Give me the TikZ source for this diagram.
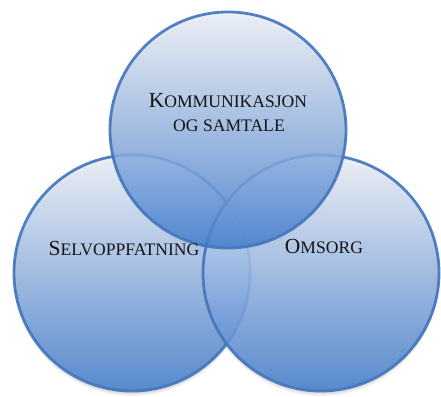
\documentclass[tikz,border=0pt]{standalone}
\usepackage{fontspec}
\setmainfont{Liberation Serif}
\newcommand\fakesc[2]{{\fontsize{21.5}{24}\selectfont #1}{\fontsize{17.6}{24}\selectfont #2}}
\definecolor{ringblue}{RGB}{68,118,188}
\definecolor{toplight}{RGB}{240,243,250}
\definecolor{midblue}{RGB}{160,184,222}
\definecolor{botblue}{RGB}{66,124,204}
\tikzset{
  venn/.style={circle, minimum size=236pt, inner sep=0pt, draw=ringblue, line width=2.8pt,
    top color=toplight, middle color=midblue, bottom color=botblue, fill opacity=0.85, draw opacity=0.92},
  shadowc/.style={circle, minimum size=236pt, inner sep=0pt, fill=black},
  lbl/.style={anchor=base, inner sep=0pt, text=black!92}
}
\begin{document}
\begin{tikzpicture}[x=1pt,y=1pt]
\useasboundingbox (0,0) rectangle (441,396);
% soft shadows
\foreach \c in {(228,266),(132,123),(321,123)}{
  \foreach \d/\o in {2/0.06,3.5/0.06,5/0.05}{
    \path[shift={(0,-\d)}] \c node[shadowc, fill opacity=\o] {};
  }
}
\node[venn] (left) at (132,123) {};
\node[venn] (right) at (321,123) {};
\node[venn] (top) at (228,266) {};
\node[lbl] (komm) at (228,288) {\fakesc{K}{OMMUNIKASJON}};
\node[lbl] (samt) at (229,264) {\fakesc{}{OG SAMTALE}};
\node[lbl] (selv) at (124,140) {\fakesc{S}{ELVOPPFATNING}};
\node[lbl] (oms) at (324,142) {\fakesc{O}{MSORG}};
\end{tikzpicture}
\end{document}
